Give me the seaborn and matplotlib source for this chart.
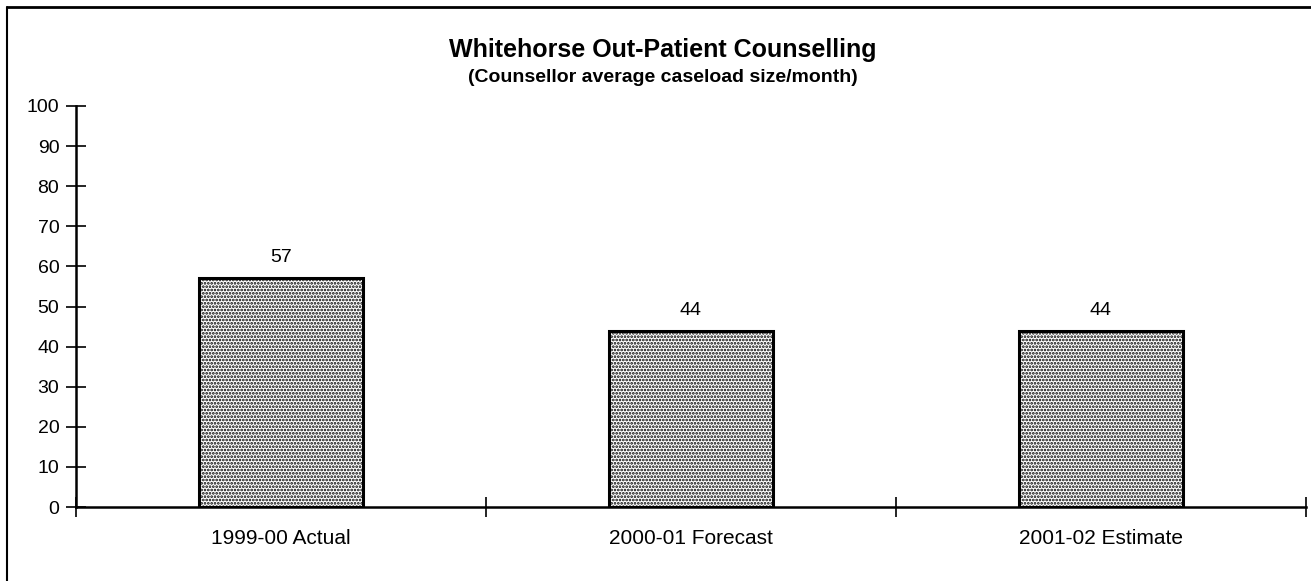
import matplotlib
matplotlib.use("Agg")
import matplotlib.pyplot as plt
import seaborn as sns
from matplotlib.lines import Line2D

categories = ["1999-00 Actual", "2000-01 Forecast", "2001-02 Estimate"]
caseload = [57, 44, 44]
y_ticks = list(range(0, 101, 10))

sns.set_theme(style="white")
plt.rcParams["font.family"] = ["Liberation Sans", "DejaVu Sans"]
plt.rcParams["text.color"] = "black"
plt.rcParams["xtick.color"] = "black"
plt.rcParams["ytick.color"] = "black"
plt.rcParams["hatch.linewidth"] = 1.3
plt.rcParams["hatch.color"] = "#222222"

fig = plt.figure(figsize=(13.11, 5.81), dpi=100)
ax = fig.add_axes([76 / 1311, 1 - 507 / 581, (1306 - 76) / 1311, (507 - 106) / 581])

sns.barplot(x=categories, y=caseload, ax=ax, color="white", edgecolor="black",
            linewidth=2.2, width=0.4, saturation=1)
for p in ax.patches:
    p.set_hatch(".....")
    p.set_facecolor("white")

# value labels above bars
for i, v in enumerate(caseload):
    ax.text(i, v + 3, str(v), ha="center", va="bottom", fontsize=14)

ax.set_ylim(0, 100)
ax.set_xlim(-0.5, len(categories) - 0.5)
ax.set_yticks(y_ticks)
ax.set_yticklabels([str(t) for t in y_ticks], fontsize=14)
ax.tick_params(axis="y", direction="inout", length=14, width=1.2, left=True,
               color="black", pad=5)
ax.set_xticks(range(len(categories)))
ax.set_xticklabels(categories, fontsize=15)
ax.tick_params(axis="x", which="major", length=0, pad=16)
ax.set_xticks([-0.5, 0.5, 1.5, 2.5], minor=True)
ax.tick_params(axis="x", which="minor", direction="inout", length=14, width=1.2,
               bottom=True, color="black")

for side in ["top", "right"]:
    ax.spines[side].set_visible(False)
for side in ["left", "bottom"]:
    ax.spines[side].set_color("black")
    ax.spines[side].set_linewidth(1.8)
ax.set_xlabel("")
ax.set_ylabel("")

fig.text(663 / 1311, 1 - 50 / 581, "Whitehorse Out-Patient Counselling",
         ha="center", va="center", fontsize=18, fontweight="bold")
fig.text(663 / 1311, 1 - 77 / 581, "(Counsellor average caseload size/month)",
         ha="center", va="center", fontsize=14, fontweight="bold")

# outer frame (top and left edges of the scanned chart box)
fig.add_artist(Line2D([7 / 1311, 7 / 1311], [0, 1 - 7 / 581], color="black", lw=1.5,
                      transform=fig.transFigure))
fig.add_artist(Line2D([7 / 1311, 1], [1 - 7 / 581, 1 - 7 / 581], color="black", lw=2,
                      transform=fig.transFigure))

fig.savefig("out.png", dpi=100)
